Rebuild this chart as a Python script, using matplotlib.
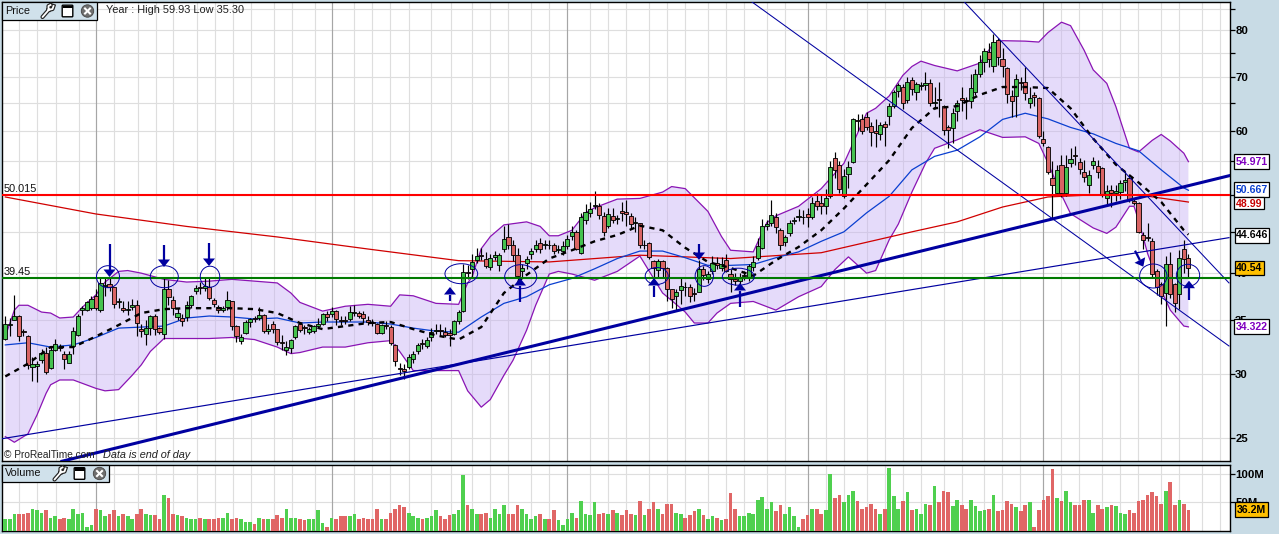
import numpy as np
import matplotlib
matplotlib.use("Agg")
import matplotlib.pyplot as plt
from matplotlib.patches import Rectangle, Ellipse, Polygon, Circle, FancyBboxPatch

plt.rcParams["font.family"] = ["Liberation Sans", "DejaVu Sans"]

# daily candles
opens = [
    33.2, 34.5, 35.0, 35.4, 33.9, 33.4, 30.6, 30.7, 31.2, 31.9,
    30.5, 32.1, 32.4, 31.8, 31.0, 32.5, 33.5, 36.0, 36.0, 36.2,
    37.5, 36.0, 38.6, 38.8, 38.4, 36.8, 36.2, 36.05, 36.3, 36.5,
    34.1, 33.6, 34.2, 35.4, 34.2, 33.6, 38.2, 37.1, 35.3, 35.2,
    35.3, 36.5, 38.0, 38.4, 38.3, 38.5, 37.1, 36.3, 36.0, 36.3,
    36.9, 34.4, 33.0, 33.7, 34.8, 35.2, 35.25, 35.5, 33.9, 34.6,
    34.1, 32.9, 32.1, 32.3, 33.3, 34.6, 34.3, 33.8, 33.9, 34.4,
    34.6, 35.6, 35.6, 35.9, 35.0, 35.0, 35.1, 35.7, 35.7, 35.6,
    35.0, 34.85, 34.6, 33.7, 34.5, 34.3, 32.6, 30.5, 30.4, 30.6,
    31.3, 32.0, 32.8, 32.5, 33.3, 33.95, 34.05, 33.8, 33.75, 33.6,
    34.9, 35.9, 40.1, 40.5, 41.5, 42.1, 41.6, 40.7, 41.9, 40.9,
    42.9, 44.3, 43.4, 42.1, 40.2, 41.2, 42.2, 42.8, 43.6, 43.4,
    43.4, 43.3, 42.7, 42.6, 43.2, 44.5, 45.0, 42.4, 46.5, 47.5,
    48.4, 48.4, 47.1, 45.8, 47.1, 46.7, 47.7, 47.6, 47.1, 46.1,
    46.1, 43.3, 43.6, 41.4, 40.4, 41.4, 40.6, 38.2, 37.5, 38.1,
    38.5, 38.5, 37.8, 37.9, 40.5, 39.3, 40.3, 41.2, 40.6, 41.5,
    39.9, 39.3, 39.1, 39.7, 39.5, 40.7, 41.8, 43.0, 45.8, 46.1,
    47.0, 45.3, 43.7, 44.8, 46.4, 47.0, 47.0, 47.3, 47.0, 49.1,
    48.9, 48.4, 49.8, 55.6, 54.4, 49.8, 53.0, 54.9, 61.9, 62.0,
    62.4, 60.8, 60.0, 59.4, 61.2, 62.6, 64.4, 67.2, 68.0, 65.6,
    69.3, 67.0, 68.2, 68.3, 68.8, 64.9, 65.7, 64.5, 60.7, 60.5,
    63.5, 65.9, 65.6, 65.4, 67.0, 70.5, 73.1, 75.2, 72.3, 77.7,
    73.6, 71.7, 66.2, 66.2, 69.0, 69.0, 65.0, 66.5, 65.9, 58.7,
    57.3, 52.5, 50.3, 54.5, 50.3, 54.8, 56.0, 54.9, 53.3, 51.4,
    54.5, 54.3, 54.0, 49.5, 50.7, 50.3, 50.4, 51.8, 52.4, 49.2,
    48.9, 44.6, 44.3, 43.8, 40.2, 38.8, 37.8, 41.0, 38.8, 37.7, 42.9, 41.8,
]
closes = [
    34.6, 34.6, 35.4, 33.4, 33.8, 30.8, 30.9, 30.9, 31.9, 30.2,
    32.1, 32.7, 32.3, 31.3, 31.8, 33.9, 35.4, 36.2, 36.8, 37.2,
    36.2, 38.9, 38.7, 38.4, 36.6, 36.9, 36.0, 36.15, 36.5, 34.7,
    33.9, 34.2, 35.4, 34.1, 33.8, 38.2, 37.4, 36.2, 35.7, 34.9,
    36.5, 37.5, 38.3, 38.3, 38.6, 37.3, 36.6, 36.0, 36.2, 37.1,
    34.4, 33.4, 33.3, 34.8, 35.1, 35.1, 35.5, 33.9, 34.1, 34.1,
    32.9, 32.8, 32.4, 33.1, 34.4, 34.0, 34.2, 34.1, 34.4, 34.6,
    35.6, 35.3, 35.9, 35.1, 34.95, 34.9, 35.8, 35.8, 35.4, 35.2,
    34.85, 34.75, 33.7, 34.5, 34.4, 32.8, 31.1, 30.4, 30.3, 31.5,
    31.8, 32.6, 32.7, 33.1, 33.8, 34.05, 33.95, 33.5, 33.55, 34.9,
    35.8, 40.1, 40.0, 41.3, 42.0, 42.0, 40.8, 41.8, 42.1, 42.1,
    44.1, 43.3, 42.1, 39.7, 40.6, 41.6, 42.6, 43.3, 42.8, 43.5,
    43.3, 42.6, 42.9, 43.2, 44.1, 45.0, 42.9, 46.9, 47.6, 48.0,
    48.6, 47.2, 45.0, 47.3, 46.6, 46.8, 47.5, 47.4, 46.0, 46.3,
    43.4, 43.4, 41.9, 40.6, 41.4, 40.6, 38.2, 37.2, 37.9, 38.6,
    38.45, 37.5, 37.7, 40.5, 39.8, 39.9, 41.2, 40.9, 41.1, 40.3,
    39.3, 39.1, 39.5, 39.8, 40.8, 41.3, 43.2, 45.8, 46.0, 47.2,
    45.6, 43.4, 44.4, 46.2, 46.5, 47.05, 46.9, 46.9, 48.9, 48.5,
    48.4, 49.6, 54.1, 53.7, 50.8, 52.8, 54.1, 62.0, 61.8, 60.0,
    60.7, 59.9, 59.6, 61.0, 60.6, 64.4, 67.0, 68.3, 65.0, 69.0,
    67.7, 68.5, 68.3, 68.8, 65.0, 65.2, 65.6, 60.1, 60.1, 63.2,
    65.0, 65.6, 65.3, 67.9, 70.6, 73.1, 75.4, 73.7, 77.2, 74.0,
    72.1, 66.6, 65.4, 69.5, 68.7, 66.8, 65.9, 66.1, 59.1, 57.9,
    53.3, 51.4, 53.6, 50.3, 54.2, 55.4, 55.9, 53.9, 52.6, 52.9,
    55.0, 53.4, 50.0, 50.5, 50.3, 50.6, 51.7, 52.2, 49.3, 48.9,
    45.0, 44.0, 44.2, 39.9, 38.4, 37.5, 41.0, 37.7, 36.7, 41.8, 41.6, 40.54,
]
highs = [
    35.4, 35.2, 37.6, 35.5, 34.1, 33.5, 31.5, 31.1, 32.2, 32.4,
    32.4, 33.2, 32.7, 32.0, 32.0, 34.3, 35.6, 36.4, 37.0, 37.5,
    38.2, 39.5, 39.5, 39.5, 38.5, 37.3, 36.9, 37.0, 37.2, 37.1,
    34.6, 35.0, 35.5, 35.6, 34.3, 39.4, 39.2, 37.5, 36.2, 35.6,
    36.9, 37.6, 38.7, 39.0, 39.4, 39.4, 37.3, 36.5, 36.4, 38.0,
    37.0, 34.5, 33.6, 35.0, 35.2, 35.4, 36.3, 35.6, 34.6, 34.9,
    34.1, 33.5, 33.0, 33.2, 34.5, 34.7, 34.5, 34.3, 34.5, 35.2,
    35.7, 35.9, 36.3, 36.0, 35.4, 35.4, 36.4, 36.5, 35.9, 35.9,
    35.4, 35.1, 34.7, 34.6, 34.9, 34.5, 32.7, 31.0, 30.9, 31.8,
    32.0, 32.8, 33.2, 33.3, 34.2, 34.6, 34.6, 34.3, 34.1, 35.0,
    36.0, 41.0, 40.9, 42.3, 43.0, 43.0, 42.5, 42.2, 42.6, 42.4,
    45.8, 46.0, 44.0, 43.0, 41.0, 42.0, 43.0, 44.0, 44.2, 44.0,
    44.0, 43.6, 43.3, 43.9, 44.6, 45.7, 45.2, 47.5, 48.7, 49.0,
    50.6, 48.8, 47.6, 48.1, 48.2, 47.2, 49.0, 49.3, 47.5, 47.0,
    46.2, 44.0, 43.7, 41.5, 41.6, 41.5, 40.7, 38.2, 38.2, 39.5,
    39.0, 38.8, 38.3, 41.5, 40.8, 40.2, 42.0, 41.9, 41.9, 42.2,
    40.5, 40.0, 40.0, 40.3, 41.0, 42.0, 44.2, 46.7, 46.5, 49.3,
    47.5, 45.5, 44.6, 46.6, 47.0, 48.0, 47.9, 48.2, 49.7, 50.3,
    50.0, 50.8, 55.0, 56.5, 55.0, 53.8, 55.0, 62.2, 63.0, 63.0,
    63.3, 61.5, 62.0, 61.5, 61.8, 65.0, 67.5, 68.8, 68.5, 70.0,
    70.0, 69.0, 69.0, 71.0, 69.5, 68.0, 69.0, 64.6, 61.0, 64.0,
    65.5, 68.0, 66.0, 70.5, 71.5, 74.5, 76.0, 77.0, 79.2, 78.2,
    76.0, 72.0, 67.5, 70.5, 70.0, 72.0, 68.0, 67.0, 66.0, 60.0,
    57.4, 55.0, 54.5, 56.0, 56.0, 57.2, 57.5, 55.5, 55.2, 53.6,
    55.7, 55.2, 54.2, 51.5, 51.5, 51.5, 52.2, 53.5, 53.0, 49.5,
    49.0, 45.0, 46.1, 44.2, 40.5, 39.0, 42.0, 42.5, 38.9, 42.7, 44.0, 42.2,
]
lows = [
    33.1, 33.4, 35.0, 33.0, 33.4, 30.4, 29.4, 29.3, 31.0, 30.0,
    30.4, 32.0, 32.0, 30.4, 31.0, 31.8, 33.4, 35.5, 35.9, 36.0,
    36.0, 35.8, 37.5, 38.0, 36.2, 36.2, 35.8, 35.5, 36.0, 33.4,
    33.3, 32.6, 33.5, 33.5, 33.6, 33.2, 36.5, 35.5, 35.0, 34.4,
    34.9, 36.2, 37.7, 37.7, 38.0, 37.1, 36.3, 35.7, 35.8, 36.0,
    34.0, 32.9, 32.7, 33.6, 34.3, 34.8, 35.0, 33.7, 33.6, 33.7,
    32.6, 32.1, 31.7, 31.9, 33.2, 33.8, 33.6, 33.6, 33.7, 34.2,
    34.5, 34.9, 35.3, 34.5, 34.5, 34.6, 34.9, 35.4, 35.2, 34.7,
    34.5, 34.4, 33.6, 33.6, 34.1, 32.6, 30.7, 29.9, 29.6, 30.4,
    31.0, 31.8, 32.2, 32.3, 33.0, 33.6, 33.5, 33.3, 32.5, 33.5,
    34.6, 35.8, 39.3, 39.5, 41.2, 41.5, 40.6, 40.4, 41.5, 40.3,
    42.5, 42.9, 41.4, 39.2, 39.5, 40.5, 41.6, 42.5, 42.4, 42.9,
    42.8, 42.2, 42.4, 42.1, 42.9, 44.0, 42.7, 42.2, 46.0, 47.0,
    48.0, 46.7, 44.5, 45.5, 46.2, 46.0, 46.4, 45.8, 45.5, 45.0,
    43.0, 42.9, 41.6, 39.5, 39.5, 39.5, 37.0, 36.2, 35.9, 36.6,
    37.5, 36.8, 36.9, 37.9, 39.2, 38.9, 39.9, 40.5, 40.3, 40.1,
    37.9, 38.7, 38.3, 39.2, 39.1, 40.2, 41.5, 42.9, 45.3, 45.8,
    44.8, 42.7, 43.2, 44.5, 46.0, 46.4, 46.0, 45.6, 46.7, 47.9,
    47.3, 47.3, 49.5, 52.5, 50.2, 49.5, 51.0, 54.8, 60.0, 59.5,
    60.2, 57.4, 57.3, 58.5, 57.4, 61.0, 64.0, 66.0, 63.8, 65.0,
    66.5, 65.5, 67.5, 67.5, 64.5, 63.8, 62.5, 59.3, 57.2, 58.0,
    61.8, 63.5, 62.0, 64.0, 66.5, 70.0, 71.0, 72.0, 71.0, 72.5,
    70.0, 65.0, 62.5, 62.5, 67.5, 65.5, 64.0, 64.5, 58.8, 57.5,
    53.0, 46.8, 50.0, 49.7, 49.8, 54.2, 54.5, 53.0, 51.8, 50.2,
    53.8, 52.5, 49.7, 48.7, 48.3, 49.1, 49.4, 50.5, 49.0, 48.6,
    44.8, 42.9, 43.8, 39.5, 37.6, 36.6, 34.4, 37.3, 35.8, 36.1, 40.0, 39.5,
]
# volume in millions
volumes = [
    21, 20, 29, 30, 30, 32, 37.5, 36, 32, 36,
    23, 25, 21, 23, 21, 37.5, 29, 32, 7, 9,
    37.5, 36, 25, 29, 36, 25, 30, 25, 20, 29,
    37.5, 29, 27, 27, 21, 64, 57, 29, 27, 25,
    23, 20, 20, 23, 21, 20, 21, 23, 23, 32,
    21, 23, 21, 16, 16, 11, 23, 21, 21, 21,
    27, 23, 37.5, 23, 23, 21, 18, 21, 21, 36,
    12.5, 7, 23, 21, 25, 25, 25, 30, 20, 23,
    21, 21, 37.5, 20, 21, 32, 37.5, 46, 41, 32,
    25, 23, 20, 23, 25, 36, 25, 21, 27, 30,
    36, 98, 46, 37.5, 30, 29, 32, 23, 37.5, 29,
    45, 29, 29, 46, 37.5, 29, 21, 25, 30, 21,
    20, 36, 18, 9, 21, 32, 23, 52, 30, 27,
    50, 30, 32, 29, 36, 32, 27, 36, 29, 27,
    52, 27, 39, 50, 37.5, 30, 48, 48, 32, 30,
    23, 27, 34, 39, 27, 21, 25, 23, 18, 21,
    66, 37.5, 25, 25, 32, 30, 55, 59, 39, 50,
    34, 45, 30, 41, 25, 7,
    21, 27, 37.5, 39, 29, 36, 100, 57, 64, 50,
    64, 71, 52, 39, 41, 48, 39, 29, 39, 111,
    62, 37.5, 52, 68, 36, 39, 29, 48, 46, 80,
    50, 70, 68, 43, 54, 46, 39, 55, 43, 34,
    36, 37.5, 64, 34, 36, 52, 48, 41, 34, 46,
    50, 7, 36, 54, 61, 109, 57, 52, 71, 50,
    45, 46, 55, 54, 32, 46, 39, 41, 46, 43,
    32, 29, 36, 32, 52, 54, 64, 68, 61, 48,
    70, 87, 46, 55, 48, 36.2,
]

# bollinger band, read where the outline bends
upper_idx = [
    0, 2, 3, 5, 8, 10, 12, 15, 17, 20, 22, 25, 27, 30, 35, 40, 45, 50, 55, 60, 63, 65,
    70, 75, 80, 85, 87, 90, 95, 100, 102, 103, 105, 107, 110, 115, 118, 120, 122, 125,
    128, 130, 135, 140, 145, 147, 150, 155, 158, 160, 165, 168, 170, 175, 180, 185, 187,
    190, 192, 195, 198, 200, 202, 205, 210, 215, 218, 220, 225, 228, 230, 233, 235, 238,
    240, 243, 245, 248, 250, 253, 255, 257, 260, 261,
]
band_upper = [
    33.4, 36.0, 36.5, 36.5, 35.8, 35.7, 35.2, 35.3, 36.3, 37.6, 39.0, 40.2, 40.3, 40.0,
    39.3, 39.0, 39.1, 39.3, 39.1, 38.9, 37.8, 36.8,
    35.9, 36.4, 36.6, 36.4, 37.6, 37.5, 36.7, 36.6, 38.9, 39.6, 42.9, 44.4, 45.9, 46.3,
    45.7, 44.5, 44.5, 45.2, 47.5, 48.2, 49.4, 49.5, 50.4, 51.2, 50.9, 47.7, 44.4, 42.7,
    42.5, 46.2, 47.1, 48.4, 50.9, 54.7, 57.9,
    63.1, 64.0, 66.3, 70.3, 72.1, 73.2, 72.3, 71.2, 72.8, 77.0, 77.6, 77.5, 77.3, 79.4,
    81.8, 81.0, 75.5, 71.4, 68.7, 64.3, 57.1, 56.5, 58.4, 59.4, 58.3, 56.3, 54.971,
]
lower_idx = [
    0, 2, 5, 7, 9, 10, 12, 15, 20, 22, 25, 28, 30, 32, 35, 40, 45, 50, 55, 60, 63, 65,
    70, 75, 80, 85, 87, 90, 95, 100, 102, 105, 107, 110, 112, 115, 117, 120, 122, 125,
    130, 135, 140, 145, 147, 150, 152, 155, 157, 160, 165, 170, 175, 180, 183, 186, 190,
    192, 195, 197, 200, 203, 205, 210, 215, 220, 225, 228, 230, 233, 235, 240, 243, 245,
    248, 249, 250, 252, 255, 257, 260, 261,
]
band_lower = [
    25.1, 24.7, 25.3, 26.7, 28.4, 29.1, 29.5, 29.5, 28.8, 28.6, 28.7, 29.9, 30.8, 32.0,
    33.2, 33.2, 33.2, 33.3, 33.1, 32.4, 31.8, 31.9,
    32.4, 32.4, 32.8, 33.0, 32.0, 30.3, 30.3, 30.3, 28.6, 27.3, 27.9, 29.9, 31.2, 34.0,
    36.5, 39.9, 40.2, 39.9, 39.2, 40.2, 42.0, 37.8, 37.0, 35.8, 34.7, 34.7, 35.7, 36.7,
    36.9, 36.0, 37.4, 38.5, 40.4, 41.9, 40.0,
    40.3, 44.0, 46.0, 50.4, 54.7, 57.1, 58.5, 60.2, 58.9, 59.0, 57.9, 54.8, 50.0, 47.4,
    45.5, 44.8, 45.6, 48.4, 48.4, 46.5, 42.3, 38.1, 36.0, 34.4, 34.322,
]

# moving averages, read every 5th bar
ma_idx = list(range(0, 261, 5)) + [261]
ma_dashed = [
    29.8, 30.9, 32.4, 32.4, 33.4, 34.5, 35.7, 36.1, 36.2, 36.2,
    36.2, 36.1, 35.7, 34.7, 34.1, 34.4, 34.7, 34.8, 34.1, 33.5,
    33.1, 34.3, 37.8, 39.8, 41.7, 42.7, 43.8, 44.6, 45.8, 45.2,
    43.0, 41.3, 40.6, 39.7, 41.5, 43.1, 45.2, 48.1, 51.5, 55.2,
    60.5, 64.0, 64.4, 66.5, 68.0, 68.0, 67.8, 64.0, 58.7, 54.5,
    51.8, 49.0, 45.2, 44.646,
]
ma_blue = [
    32.6, 32.8, 32.4, 32.6, 33.3, 34.2, 34.3, 34.4, 35.2, 35.4,
    35.3, 35.1, 35.2, 34.7, 34.8, 34.8, 34.8, 34.6, 34.2, 33.9,
    33.8, 35.3, 36.7, 37.4, 38.7, 39.4, 40.5, 41.7, 42.6, 42.6,
    41.8, 40.9, 40.9, 41.0, 41.8, 42.5, 43.8, 45.0, 47.5, 49.8,
    53.7, 55.8, 56.8, 59.0, 62.0, 63.1, 62.1, 60.6, 59.5, 57.9,
    56.7, 53.7, 51.0, 50.667,
]
ma_red_idx = [0, 20, 40, 60, 80, 100, 120, 140, 160, 180, 200, 210, 220, 230, 240, 250, 261]
ma_red = [49.7, 47.35, 45.7, 44.35, 42.85, 41.45, 41.3, 42.1, 41.7, 42.4, 45.0, 46.3, 48.3, 49.7, 50.0, 50.0, 48.99]

res_level = 50.015
sup_level = 39.45

# hand drawn trend lines: bar index / price of both ends
thick_x, thick_y = [12.5, 269.95], [23.4, 52.8]
thin_x, thin_y = [-0.73, 269.95], [24.95, 44.26]
fall_a_x, fall_a_y = [164.05, 269.95], [87.2, 32.5]
fall_b_x, fall_b_y = [211.1, 269.95], [87.2, 38.9]

price_ticks = [25, 30, 35, 40, 45, 50, 55, 60, 65, 70, 75, 80, 85]
price_labels = ["25", "30", "35", "40", "", "50", "", "60", "", "70", "", "80", ""]

# vertical grid positions on the screen
week_px = [19.3, 37.3, 55.7, 78.7, 114.3, 137.7, 155.7, 173.3, 196.7, 214.7, 232.7, 250.7,
           273.7, 291.7, 314.7, 354.3, 372.3, 390.3, 409.3, 431.3, 450.7, 472.3, 490.3,
           508.3, 531.3, 549.3, 590.3, 608.3, 626.3, 649.3, 667.3, 685.3, 708.3, 726.3,
           744.3, 767.3, 785.3, 826.3, 844.3, 867.3, 885.3, 903.3, 921.3, 944.3, 962.3,
           984.3, 1002.3, 1020.3, 1061.3, 1079.3, 1102.3, 1120.3, 1138.3, 1161.3, 1179.3,
           1202.3, 1220.3]
quarter_px = [96.3, 332.3, 567.3, 808.3, 1043.3]

W, H = 1279, 534
BG = "#c8dbe5"
GREEN = "#45c24f"
RED = "#d96464"
BLUE = "#0000a0"
PURPLE = "#8a14b4"


def px_rect(x0, y0, x1, y1):
    return [x0 / W, 1 - y1 / H, (x1 - x0) / W, (y1 - y0) / H]


def bar_of(px):
    return (np.asarray(px) - 5.3) / 4.533


def price_of(py):
    return 80 * np.exp(-(py - 30) / 350.8)


fig = plt.figure(figsize=(W / 100, H / 100), dpi=100, facecolor=BG)
ax = fig.add_axes(px_rect(1.5, 1.5, 1229.5, 461))
vax = fig.add_axes(px_rect(1.5, 464.5, 1229.5, 530.5))
over = fig.add_axes([0, 0, 1, 1], zorder=10)
over.set_xlim(0, W)
over.set_ylim(H, 0)
over.axis("off")
over.patch.set_alpha(0)

bars = np.arange(len(closes))
o, c, h, l = map(np.array, (opens, closes, highs, lows))
up = c >= o
colors = [GREEN if u else RED for u in up]

# price panel
ax.set_yscale("log")
ax.fill(np.r_[upper_idx, lower_idx[::-1]], np.r_[band_upper, band_lower[::-1]],
        color="#c7b1f4", alpha=0.45, lw=0, zorder=1.5)
ax.plot(upper_idx, band_upper, color=PURPLE, lw=0.9, zorder=2)
ax.plot(lower_idx, band_lower, color=PURPLE, lw=0.9, zorder=2)
ax.plot(ma_red_idx, ma_red, color="#d00000", lw=0.9, zorder=2)
ax.plot(ma_idx, ma_blue, color="#0a3fd0", lw=0.9, zorder=2)

ax.vlines(bars, l, h, color="black", lw=0.85, zorder=3)
ax.bar(bars, np.abs(c - o), bottom=np.minimum(o, c), width=0.92, color=colors,
       edgecolor="black", lw=0.62, zorder=3.2)

ax.plot(ma_idx, ma_dashed, color="black", lw=1.7, dashes=(2.2, 2.2), zorder=4)
ax.plot(thin_x, thin_y, color=BLUE, lw=0.85, zorder=4.5)
ax.plot(fall_a_x, fall_a_y, color=BLUE, lw=0.75, zorder=4.5)
ax.plot(fall_b_x, fall_b_y, color=BLUE, lw=0.75, zorder=4.5)
ax.plot(thick_x, thick_y, color=BLUE, lw=2.2, zorder=4.6)
ax.axhline(res_level, color="#ff0000", lw=1.5, zorder=5)
ax.axhline(sup_level, color="#007a00", lw=1.5, zorder=5)

ax.set_xlim(bar_of(1.5), bar_of(1229.5))
ax.set_ylim(price_of(461), price_of(1.5))
ax.set_yticks(price_ticks, price_labels)
ax.minorticks_off()
ax.set_xticks(bar_of(week_px))
ax.tick_params(axis="x", length=0, labelbottom=False)
ax.yaxis.tick_right()
ax.tick_params(axis="y", length=3.4, width=0.9, pad=0.7, labelsize=8.2)
for t in ax.get_yticklabels():
    t.set_fontweight("bold")
ax.set_axisbelow(True)
ax.grid(True, color="#dedede", lw=0.85)
for q in quarter_px:
    ax.axvline(bar_of(q), color="#a6a6a6", lw=0.85, zorder=1)

# volume panel
vax.bar(bars, volumes, width=0.8, color=["#4fd04f" if u else "#e06666" for u in up], lw=0, zorder=3)
vax.set_xlim(ax.get_xlim())
vax.set_ylim(0, 117.5)
vax.set_yticks([50, 100], ["50M", "100M"])
vax.set_xticks(bar_of(week_px))
vax.tick_params(axis="x", length=0, labelbottom=False)
vax.yaxis.tick_right()
vax.tick_params(axis="y", length=3.4, width=0.9, pad=0.7, labelsize=8.2)
for t in vax.get_yticklabels():
    t.set_fontweight("bold")
vax.set_axisbelow(True)
vax.grid(True, color="#dedede", lw=0.85)
for q in quarter_px:
    vax.axvline(bar_of(q), color="#a6a6a6", lw=0.85, zorder=1)

for a in (ax, vax):
    a.patch.set_facecolor("white")
    for s in a.spines.values():
        s.set_linewidth(1.0)
        s.set_color("black")


def arrow(x0, y0, x1, y1):
    d = np.array([x1 - x0, y1 - y0], dtype=float)
    d /= np.hypot(*d)
    n = np.array([-d[1], d[0]])
    tip = np.array([x1, y1])
    base = tip - d * 7.5
    over.plot([x0, base[0]], [y0, base[1]], color=BLUE, lw=1.6, solid_capstyle="butt")
    over.add_patch(Polygon([tip, base + n * 6, base - n * 6], closed=True, fc=BLUE, ec="none"))


def wrench(x, y):
    for lw, col in ((3.0, "#222222"), (1.3, "white")):
        over.plot([x - 5, x + 2], [y + 6, y - 2], color=col, lw=lw, solid_capstyle="round")
        over.plot([x + 1, x + 5, x + 6], [y - 1, y - 2, y - 5], color=col, lw=lw)
        over.plot([x + 1, x + 1, x + 3], [y - 1, y - 5, y - 6], color=col, lw=lw)


def panel_box(x1, y0, y1, name, icon_x):
    over.add_patch(Rectangle((2, y0), x1 - 2, y1 - y0, fc="#d0e1eb", ec="black", lw=0.9))
    over.text(4.7, (y0 + y1) / 2, name, fontsize=7.8, va="center", ha="left", color="#111111")
    yc = (y0 + y1) / 2
    wrench(icon_x[0], yc)
    over.add_patch(FancyBboxPatch((icon_x[1] - 4.5, yc - 5), 9, 10, boxstyle="round,pad=0.8",
                                  fc="white", ec="black", lw=1))
    over.add_patch(Rectangle((icon_x[1] - 5, yc - 5.5), 10, 2.5, fc="black", ec="none"))
    over.add_patch(Circle((icon_x[2], yc), 6.2, fc="#6e6e6e", ec="#444444", lw=0.6))
    over.plot([icon_x[2] - 2.5, icon_x[2] + 2.5], [yc - 2.5, yc + 2.5], color="white", lw=1.5)
    over.plot([icon_x[2] - 2.5, icon_x[2] + 2.5], [yc + 2.5, yc - 2.5], color="white", lw=1.5)


def value_box(x0, x1, y0, y1, text, col, fc="white"):
    over.add_patch(Rectangle((x0, y0), x1 - x0, y1 - y0, fc=fc, ec="black", lw=0.9))
    over.text((x0 + x1) / 2, (y0 + y1) / 2 + 0.3, text, color=col, fontsize=7.6, fontweight="bold",
              ha="center", va="center")


# drawn notes on the chart
for cx, cy, w, hh in [(108, 276.7, 23, 22), (164.3, 276.7, 28, 22), (210, 276.7, 19.5, 21),
                      (461.3, 273.7, 32.7, 20), (520.7, 276.7, 32, 24), (656.7, 276, 23, 17),
                      (704.3, 276, 18.3, 20.7), (738.3, 276.7, 32, 17), (1153.3, 276, 27.3, 24),
                      (1188, 275.3, 23.3, 22)]:
    over.add_patch(Ellipse((cx, cy), w, hh, fc="none", ec=BLUE, lw=0.7))

for a in [(109.5, 244, 109.5, 277), (164, 245, 164, 267), (209, 243, 209, 266),
          (450, 300.7, 450, 287), (520, 301.7, 520, 278), (654, 296.7, 654, 278),
          (699, 244, 699, 260), (740, 306.7, 740, 283), (1135, 250.7, 1143.3, 266.7),
          (1189, 300, 1189, 280.7)]:
    arrow(*a)

over.text(3.5, 189.5, "50.015", fontsize=7.8, va="center", ha="left", color="#111111")
over.text(3.5, 272.3, "39.45", fontsize=7.8, va="center", ha="left", color="#111111")
over.text(106.5, 10, "Year : High 59.93 Low 35.30", fontsize=7.9, va="center", ha="left", color="#222222")
over.text(3.5, 455, "\u00a9 ProRealTime.com", fontsize=7.3, va="center", ha="left", color="#222222")
over.text(103, 455, "Data is end of day", fontsize=7.8, style="italic", va="center", ha="left", color="#222222")

panel_box(96.7, 2, 20, "Price", (47.5, 67.5, 87.5))
panel_box(108.7, 464.7, 482.3, "Volume", (59.5, 79.5, 99.5))

value_box(1234.3, 1269.3, 154.3, 169.3, "54.971", "#8000c0")
value_box(1234.3, 1269.3, 182.3, 197.3, "50.667", "#0a3fd0")
value_box(1234.3, 1264, 197.3, 209.3, "48.99", "#c80000")
value_box(1235, 1269.3, 227.7, 242.7, "44.646", "black")
value_box(1235, 1264, 260.7, 275, "40.54", "black", fc="#ffc000")
value_box(1234.3, 1269.3, 319.3, 334.3, "34.322", "#8000c0")
value_box(1235, 1267.5, 502.3, 517.3, "36.2M", "black", fc="#ffc000")

fig.savefig("out.png", dpi=100, facecolor=BG)
